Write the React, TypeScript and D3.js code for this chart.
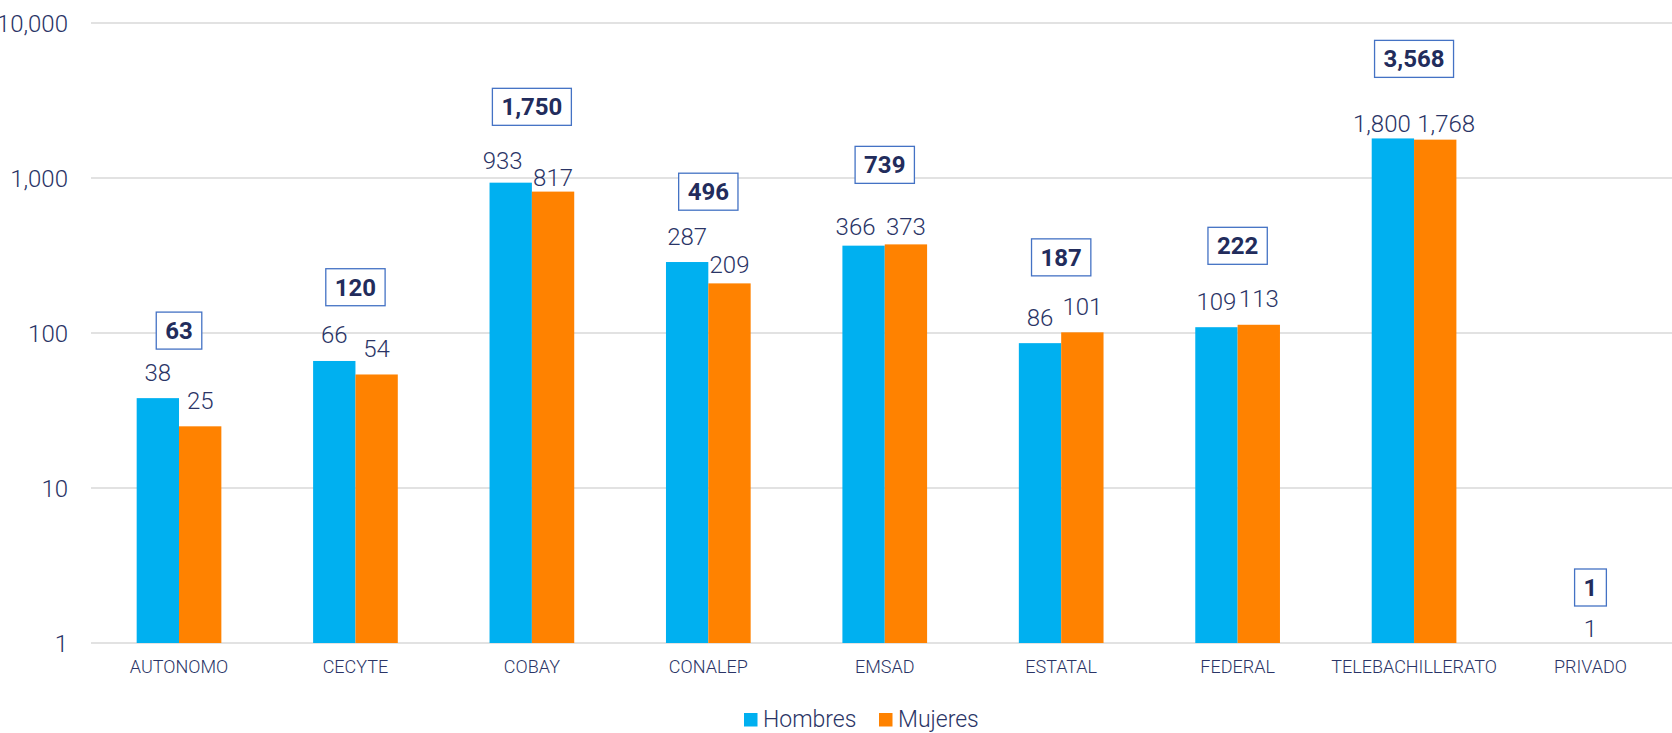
import React, { useEffect, useRef } from "react";
import * as d3 from "d3";

const categories = ["AUTONOMO", "CECYTE", "COBAY", "CONALEP", "EMSAD", "ESTATAL", "FEDERAL", "TELEBACHILLERATO", "PRIVADO"];
const hombres: (number | null)[] = [38, 66, 933, 287, 366, 86, 109, 1800, 1];
const mujeres: (number | null)[] = [25, 54, 817, 209, 373, 101, 113, 1768, null];
const totales = [63, 120, 1750, 496, 739, 187, 222, 3568, 1];
const yTicks = [1, 10, 100, 1000, 10000];
const seriesNames = ["Hombres", "Mujeres"];

// label nudges (layout only) [dx, dy] per category for each series, and total dy
const nudgeH: [number, number][] = [[0, 0], [0, 0], [-8, 3.5], [0, 0], [-8, 7], [0, 0], [0, 0], [-11, 11], [21, 11.5]];
const nudgeM: [number, number][] = [[0, 0], [0, 0], [0, 12], [0, 7.5], [0, 8], [0, 0], [0, 0], [11, 9.5], [0, 0]];
const nudgeT = [0, 0, 0, 0, 0, 0, 0, 0, -22];

const W = 1672;
const H = 733;
const COLORS = ["#00B0F0", "#FF8200"];
const TEXT = "#2A3466";
const FONT = "Roboto, 'Open Sans', sans-serif";

export default function App() {
  const ref = useRef<SVGSVGElement>(null);

  useEffect(() => {
    const svg = d3.select(ref.current);
    svg.selectAll("*").remove();

    const x0 = d3.scaleBand<string>().domain(categories).range([90.8, 1678.7]).paddingInner(0.52).paddingOuter(0.26);
    const x1 = d3.scaleBand<string>().domain(seriesNames).range([0, x0.bandwidth()]);
    const y = d3.scaleLog().domain([1, 10000]).range([643, 23]);
    const fmt = d3.format(",");

    // gridlines
    svg.append("g").selectAll("line").data(yTicks).join("line")
      .attr("x1", 91).attr("x2", W)
      .attr("y1", (d) => y(d)).attr("y2", (d) => y(d))
      .attr("stroke", "#D9D9D9").attr("stroke-width", 1.5);

    // y tick labels
    svg.append("g").selectAll("text").data(yTicks).join("text")
      .attr("x", 68).attr("y", (d) => y(d) + 8.5)
      .attr("text-anchor", "end")
      .attr("font-family", FONT).attr("font-weight", 300).attr("font-size", 24)
      .attr("fill", TEXT).text((d) => fmt(d));

    const series = [hombres, mujeres];
    const nudges = [nudgeH, nudgeM];

    series.forEach((vals, si) => {
      const g = svg.append("g");
      categories.forEach((c, i) => {
        const v = vals[i];
        if (v == null) return;
        const bx = (x0(c) as number) + (x1(seriesNames[si]) as number);
        const bw = x1.bandwidth();
        g.append("rect")
          .attr("x", bx).attr("width", bw)
          .attr("y", y(v)).attr("height", y(1) - y(v))
          .attr("fill", COLORS[si]);
      });
    });

    series.forEach((vals, si) => {
      const g = svg.append("g");
      categories.forEach((c, i) => {
        const v = vals[i];
        if (v == null) return;
        const bx = (x0(c) as number) + (x1(seriesNames[si]) as number);
        const bw = x1.bandwidth();
        const [dx, dy] = nudges[si][i];
        g.append("text")
          .attr("x", bx + bw / 2 + dx).attr("y", y(v) - 17.5 + dy)
          .attr("text-anchor", "middle")
          .attr("font-family", FONT).attr("font-weight", 300).attr("font-size", 24)
          .attr("fill", TEXT).text(fmt(v));
      });
    });

    // total boxes
    const tg = svg.append("g");
    categories.forEach((c, i) => {
      const cx = (x0(c) as number) + x0.bandwidth() / 2;
      const cy = y(totales[i]) - 33.5 + nudgeT[i];
      const grp = tg.append("g");
      const rect = grp.append("rect");
      const t = grp.append("text")
        .attr("x", cx).attr("y", cy + 8.5)
        .attr("text-anchor", "middle")
        .attr("font-family", FONT).attr("font-weight", 700).attr("font-size", 24)
        .attr("fill", "#222C5C").text(fmt(totales[i]));
      const tw = (t.node() as SVGTextElement).getComputedTextLength();
      const bw = tw + 18;
      rect.attr("x", cx - bw / 2).attr("y", cy - 18.5)
        .attr("width", bw).attr("height", 37)
        .attr("fill", "white").attr("stroke", "#4472C4").attr("stroke-width", 1.3);
    });

    // category labels
    svg.append("g").selectAll("text").data(categories).join("text")
      .attr("x", (d) => (x0(d) as number) + x0.bandwidth() / 2)
      .attr("y", 673)
      .attr("text-anchor", "middle")
      .attr("font-family", FONT).attr("font-weight", 300).attr("font-size", 18)
      .attr("fill", TEXT).text((d) => d);

    // legend
    const lg = svg.append("g");
    const legendX = [744, 879];
    seriesNames.forEach((s, i) => {
      lg.append("rect").attr("x", legendX[i]).attr("y", 713).attr("width", 13.5).attr("height", 13.5).attr("fill", COLORS[i]);
      lg.append("text").attr("x", legendX[i] + 19).attr("y", 727)
        .attr("font-family", FONT).attr("font-weight", 300).attr("font-size", 23)
        .attr("fill", TEXT).text(s);
    });
  }, []);

  return (
    <svg
      ref={ref}
      width={W}
      height={H}
      style={{ position: "absolute", left: 0, top: 0, display: "block", background: "white" }}
    />
  );
}
